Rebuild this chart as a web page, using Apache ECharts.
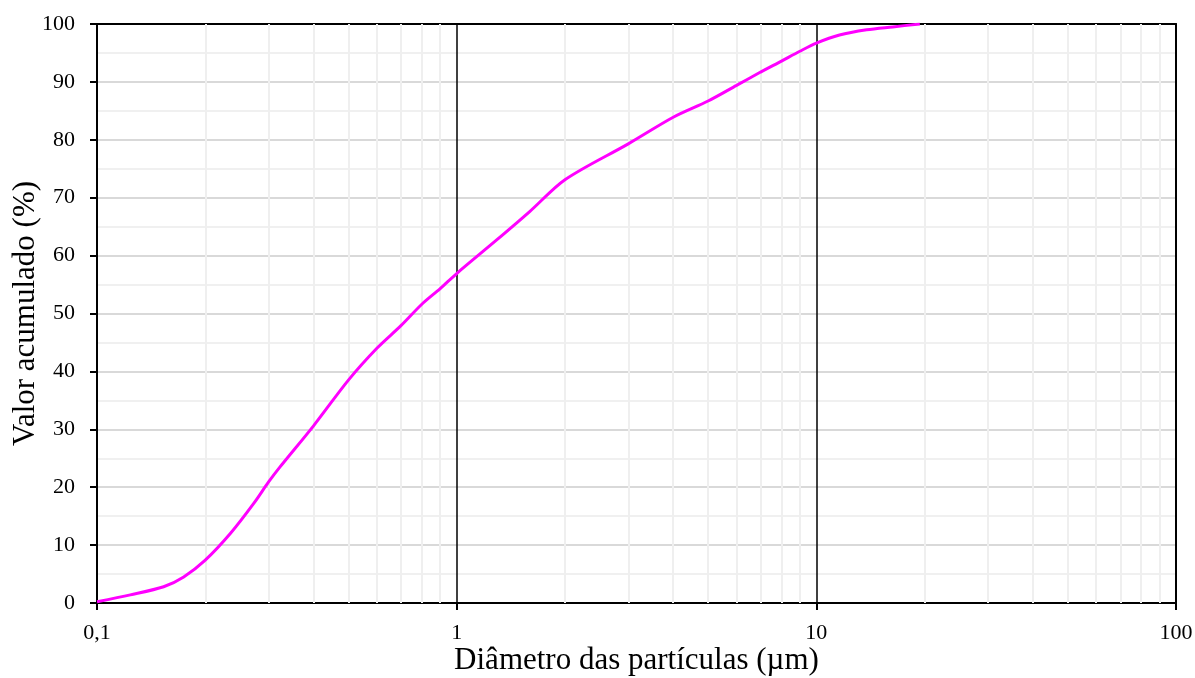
<!DOCTYPE html>
<html>
<head>
<meta charset="utf-8">
<script src="https://cdn.jsdelivr.net/npm/echarts@6/dist/echarts.min.js"></script>
<style>
  html, body { margin: 0; padding: 0; background: #fff; }
  #chart { width: 1195px; height: 678px; }
</style>
</head>
<body>
<div id="chart"></div>
<script>
// particle size distribution, cumulative
const diameters = [0.1, 0.1238, 0.1532, 0.1742, 0.2, 0.2348, 0.2728, 0.3, 0.3228, 0.4, 0.5,
                   0.6, 0.7, 0.8, 0.9, 1.0, 1.292, 1.596, 2.0, 3.0, 4.0, 5.0, 6.0,
                   7.0, 8.0, 9.0, 10.0, 11.6, 13.8, 16.3, 19.4];
const cumulative = [0.2, 1.4, 2.8, 4.5, 7.4, 12.0, 17.2, 20.9, 23.5, 30.6, 38.5,
                    44.0, 47.9, 51.6, 54.3, 56.9, 62.7, 67.6, 73.1, 79.3, 83.9, 86.7, 89.4,
                    91.7, 93.6, 95.3, 96.7, 98.1, 99.0, 99.5, 100];
const minorGridX = [0.2, 0.3, 0.4, 0.5, 0.6, 0.7, 0.8, 0.9,
                    2, 3, 4, 5, 6, 7, 8, 9,
                    20, 30, 40, 50, 60, 70, 80, 90];

const font = '"Liberation Serif", "DejaVu Serif", serif';

const chart = echarts.init(document.getElementById('chart'), null, { renderer: 'canvas' });

// frame-only axis for top / right edges
const frameAxis = {
    show: true,
    axisLine: { show: true, onZero: false, lineStyle: { color: '#000', width: 2 } },
    axisTick: { show: false },
    axisLabel: { show: false },
    splitLine: { show: false }
};

chart.setOption({
    animation: false,
    grid: { left: 97, right: 19, top: 24, bottom: 75, outerBoundsMode: 'none', containLabel: false },
    xAxis: [
        {
            type: 'log', logBase: 10, min: 0.1, max: 100,
            name: 'Diâmetro das partículas (µm)',
            nameLocation: 'middle', nameGap: 42, nameMoveOverlap: false,
            nameTextStyle: { fontFamily: font, fontSize: 31, color: '#000' },
            axisLine: { show: true, onZero: false, lineStyle: { color: '#000', width: 2 } },
            axisTick: { show: true, inside: false, length: 7, lineStyle: { color: '#000', width: 2 } },
            axisLabel: {
                fontFamily: font, fontSize: 22, color: '#000', margin: 19,
                formatter: (v) => String(v).replace('.', ',')
            },
            splitLine: { show: true, showMinLine: false, showMaxLine: false, lineStyle: { color: '#000', width: 1.5 } }
        },
        Object.assign({ type: 'log', logBase: 10, min: 0.1, max: 100, position: 'top' }, frameAxis)
    ],
    yAxis: [
        {
            type: 'value', min: 0, max: 100, interval: 10,
            name: 'Valor acumulado (%)',
            nameLocation: 'middle', nameGap: 56, nameMoveOverlap: false,
            nameTextStyle: { fontFamily: font, fontSize: 31, color: '#000' },
            axisLine: { show: true, onZero: false, lineStyle: { color: '#000', width: 2 } },
            axisTick: { show: true, inside: false, length: 7, lineStyle: { color: '#000', width: 2 } },
            axisLabel: { fontFamily: font, fontSize: 22, color: '#000', margin: 22 },
            splitLine: { show: true, showMaxLine: false, lineStyle: { color: '#d9d9d9', width: 2 } },
            minorTick: { show: false, splitNumber: 2 },
            minorSplitLine: { show: true, lineStyle: { color: '#f0f0f0', width: 2 } }
        },
        Object.assign({ type: 'value', min: 0, max: 100, position: 'right' }, frameAxis)
    ],
    series: [
        {
            // minor vertical grid at 2..9 of each decade
            type: 'line',
            data: [],
            silent: true,
            z: 0,
            markLine: {
                silent: true,
                symbol: ['none', 'none'],
                label: { show: false },
                lineStyle: { color: '#efefef', width: 2, type: 'solid' },
                data: minorGridX.map((v) => ({ xAxis: v }))
            }
        },
        {
            type: 'line',
            data: diameters.map((d, i) => [d, cumulative[i]]),
            smooth: 0.3,
            showSymbol: false,
            z: 5,
            lineStyle: { color: '#ff00ff', width: 3 }
        }
    ]
});

const ro = new ResizeObserver(() => chart.resize());
ro.observe(document.getElementById('chart'));
</script>
</body>
</html>
